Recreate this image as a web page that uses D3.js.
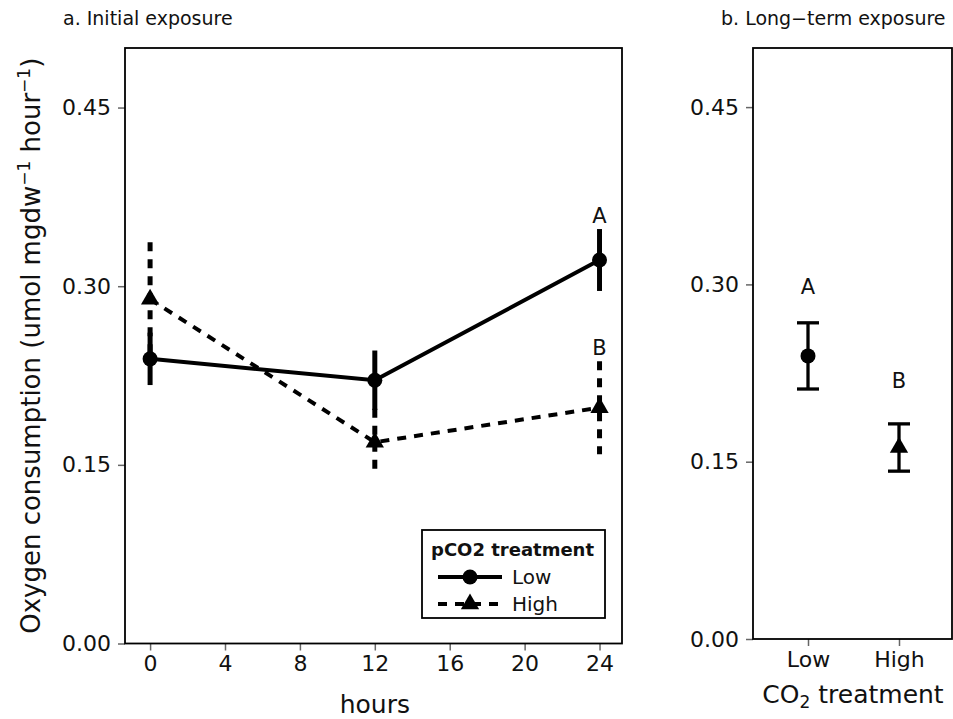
<!DOCTYPE html>
<html>
<head>
<meta charset="utf-8">
<script src="https://cdn.jsdelivr.net/npm/d3@7/dist/d3.min.js"></script>
<style>
  body { margin: 0; background: #fff; }
  text { font-family: "DejaVu Sans", "Liberation Sans", sans-serif; fill: #111; }
  .tick line { stroke: #666; stroke-width: 1.5; }
</style>
</head>
<body>
<div class="chart"></div>
<script>
// Data, panel a: initial exposure over time
var hours = [0, 12, 24];
var lowMean = [0.239, 0.221, 0.322];
var lowSe = [0.022, 0.025, 0.026];
var highMean = [0.289, 0.169, 0.198];
var highSe = [0.048, 0.028, 0.039];
var letterLabels = ["A", "B"];
var letterY = [0.359, 0.249];

// Data, panel b: long-term exposure
var treatments = ["Low", "High"];
var ltMean = [0.2395, 0.162];
var ltSe = [0.028, 0.020];
var ltLetterY = [0.298, 0.219];

var xTicks = [0, 4, 8, 12, 16, 20, 24];
var yTicks = [0, 0.15, 0.30, 0.45];

var svgWidth = 953;
var svgHeight = 719;

var svg = d3.select(".chart").append("svg")
  .attr("width", svgWidth)
  .attr("height", svgHeight);

// symbols
var circleSym = d3.symbol().type(d3.symbolCircle).size(Math.PI * 7.5 * 7.5);
var triSym = d3.symbol().type(d3.symbolTriangle).size(145);
var dash = "9,8";

// ---------------- Panel a ----------------
var xA = d3.scaleLinear().domain([-1.34, 25.2]).range([125, 622]);
var yA = d3.scaleLinear().domain([0, 0.5]).range([643.5, 48]);

svg.append("text").attr("x", 63).attr("y", 25)
  .style("font-size", "19px").text("a. Initial exposure");

var gA = svg.append("g");

gA.append("g")
  .attr("transform", "translate(0,643.5)")
  .call(d3.axisBottom(xA).tickValues(xTicks).tickSize(7).tickPadding(5))
  .call(function(g) { g.select(".domain").remove(); })
  .selectAll("text").style("font-size", "22px").attr("fill", "#111");

gA.append("g")
  .attr("transform", "translate(125,0)")
  .call(d3.axisLeft(yA).tickValues(yTicks).tickFormat(d3.format(".2f")).tickSize(7).tickPadding(7))
  .call(function(g) { g.select(".domain").remove(); })
  .selectAll("text").style("font-size", "22px").attr("fill", "#111");

gA.append("rect")
  .attr("x", 125).attr("y", 48)
  .attr("width", 622 - 125).attr("height", 643.5 - 48)
  .attr("fill", "none").attr("stroke", "#000").attr("stroke-width", 1.8);

var lowPts = hours.map(function(h, i) { return { x: h, y: lowMean[i], se: lowSe[i] }; });
var highPts = hours.map(function(h, i) { return { x: h, y: highMean[i], se: highSe[i] }; });

var line = d3.line()
  .x(function(d) { return xA(d.x); })
  .y(function(d) { return yA(d.y); });

// error bars (linerange)
gA.selectAll("line.low-err").data(lowPts).enter().append("line")
  .attr("class", "low-err")
  .attr("x1", function(d) { return xA(d.x); })
  .attr("x2", function(d) { return xA(d.x); })
  .attr("y1", function(d) { return yA(d.y - d.se); })
  .attr("y2", function(d) { return yA(d.y + d.se); })
  .attr("stroke", "#000").attr("stroke-width", 5);

gA.selectAll("line.high-err").data(highPts).enter().append("line")
  .attr("class", "high-err")
  .attr("x1", function(d) { return xA(d.x); })
  .attr("x2", function(d) { return xA(d.x); })
  .attr("y1", function(d) { return yA(d.y + d.se); })
  .attr("y2", function(d) { return yA(d.y - d.se); })
  .attr("stroke", "#000").attr("stroke-width", 5)
  .attr("stroke-dasharray", dash);

gA.append("path").datum(lowPts).attr("d", line)
  .attr("fill", "none").attr("stroke", "#000").attr("stroke-width", 4);

gA.append("path").datum(highPts).attr("d", line)
  .attr("fill", "none").attr("stroke", "#000").attr("stroke-width", 4)
  .attr("stroke-dasharray", dash);

gA.selectAll("path.low-pt").data(lowPts).enter().append("path")
  .attr("class", "low-pt")
  .attr("d", circleSym)
  .attr("transform", function(d) { return "translate(" + xA(d.x) + "," + yA(d.y) + ")"; })
  .attr("fill", "#000");

gA.selectAll("path.high-pt").data(highPts).enter().append("path")
  .attr("class", "high-pt")
  .attr("d", triSym)
  .attr("transform", function(d) { return "translate(" + xA(d.x) + "," + yA(d.y) + ")"; })
  .attr("fill", "#000");

gA.selectAll("text.letter").data(letterLabels).enter().append("text")
  .attr("class", "letter")
  .attr("x", xA(24))
  .attr("y", function(d, i) { return yA(letterY[i]); })
  .attr("dy", "0.36em")
  .attr("text-anchor", "middle")
  .style("font-size", "21px")
  .text(function(d) { return d; });

// x title
svg.append("text").attr("x", xA(12)).attr("y", 713)
  .attr("text-anchor", "middle").style("font-size", "25px").text("hours");

// y title
var yTitle = svg.append("text")
  .attr("transform", "translate(40," + ((48 + 643.5) / 2) + ") rotate(-90)")
  .attr("text-anchor", "middle").style("font-size", "26px");
yTitle.append("tspan").text("Oxygen consumption (umol mgdw");
yTitle.append("tspan").attr("baseline-shift", "super").style("font-size", "17px").text("\u22121");
yTitle.append("tspan").text(" hour");
yTitle.append("tspan").attr("baseline-shift", "super").style("font-size", "17px").text("\u22121");
yTitle.append("tspan").text(")");

// legend
var legend = svg.append("g");
legend.append("rect")
  .attr("x", 422).attr("y", 530).attr("width", 183).attr("height", 88)
  .attr("fill", "#fff").attr("stroke", "#000").attr("stroke-width", 1.8);
legend.append("text").attr("x", 431).attr("y", 556)
  .style("font-size", "18px").style("font-weight", "bold").text("pCO2 treatment");

var legendRows = [
  { label: "Low", y: 577, sym: circleSym, dash: null },
  { label: "High", y: 604, sym: triSym, dash: dash }
];
legendRows.forEach(function(r) {
  legend.append("line")
    .attr("x1", 438).attr("x2", 502).attr("y1", r.y).attr("y2", r.y)
    .attr("stroke", "#000").attr("stroke-width", 4)
    .attr("stroke-dasharray", r.dash);
  legend.append("path").attr("d", r.sym)
    .attr("transform", "translate(470," + r.y + ")").attr("fill", "#000");
  legend.append("text").attr("x", 512).attr("y", r.y).attr("dy", "0.36em")
    .style("font-size", "20px").text(r.label);
});

// ---------------- Panel b ----------------
var xB = d3.scalePoint().domain(treatments).range([808, 899]);
var yB = d3.scaleLinear().domain([0, 0.5]).range([639, 48]);

svg.append("text").attr("x", 721).attr("y", 25)
  .style("font-size", "19px").text("b. Long\u2212term exposure");

var gB = svg.append("g");

gB.append("g")
  .attr("transform", "translate(0,639)")
  .call(d3.axisBottom(xB).tickSize(7).tickPadding(5))
  .call(function(g) { g.select(".domain").remove(); })
  .selectAll("text").style("font-size", "22px").attr("fill", "#111");

gB.append("g")
  .attr("transform", "translate(753,0)")
  .call(d3.axisLeft(yB).tickValues(yTicks).tickFormat(d3.format(".2f")).tickSize(7).tickPadding(7))
  .call(function(g) { g.select(".domain").remove(); })
  .selectAll("text").style("font-size", "22px").attr("fill", "#111");

gB.append("rect")
  .attr("x", 753).attr("y", 48)
  .attr("width", 952 - 753).attr("height", 639 - 48)
  .attr("fill", "none").attr("stroke", "#000").attr("stroke-width", 1.8);

var ltPts = treatments.map(function(t, i) { return { t: t, y: ltMean[i], se: ltSe[i] }; });
var capW = 11;

var eb = gB.selectAll("g.eb").data(ltPts).enter().append("g").attr("class", "eb");
eb.append("line")
  .attr("x1", function(d) { return xB(d.t); })
  .attr("x2", function(d) { return xB(d.t); })
  .attr("y1", function(d) { return yB(d.y - d.se); })
  .attr("y2", function(d) { return yB(d.y + d.se); })
  .attr("stroke", "#000").attr("stroke-width", 3.3);
[1, -1].forEach(function(s) {
  eb.append("line")
    .attr("x1", function(d) { return xB(d.t) - capW; })
    .attr("x2", function(d) { return xB(d.t) + capW; })
    .attr("y1", function(d) { return yB(d.y + s * d.se); })
    .attr("y2", function(d) { return yB(d.y + s * d.se); })
    .attr("stroke", "#000").attr("stroke-width", 3.3);
});
eb.append("path")
  .attr("d", function(d, i) { return i === 0 ? circleSym() : triSym(); })
  .attr("transform", function(d) { return "translate(" + xB(d.t) + "," + yB(d.y) + ")"; })
  .attr("fill", "#000");

gB.selectAll("text.letter").data(letterLabels).enter().append("text")
  .attr("class", "letter")
  .attr("x", function(d, i) { return xB(treatments[i]); })
  .attr("y", function(d, i) { return yB(ltLetterY[i]); })
  .attr("dy", "0.36em")
  .attr("text-anchor", "middle")
  .style("font-size", "21px")
  .text(function(d) { return d; });

var xbTitle = svg.append("text").attr("x", 853).attr("y", 703)
  .attr("text-anchor", "middle").style("font-size", "25px");
xbTitle.append("tspan").text("CO");
xbTitle.append("tspan").attr("dy", 5).style("font-size", "17px").text("2");
xbTitle.append("tspan").attr("dy", -5).text(" treatment");
</script>
</body>
</html>
